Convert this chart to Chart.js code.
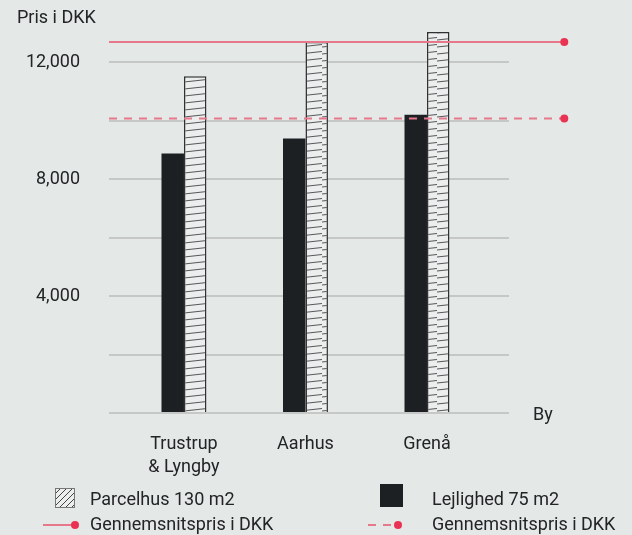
<!DOCTYPE html>
<html>
<head>
<meta charset="utf-8">
<script src="https://cdn.jsdelivr.net/npm/chart.js@4"></script>
<style>
  html, body { margin: 0; padding: 0; background: #e4e8e7; }
  #wrap { width: 632px; height: 535px; position: relative; }
</style>
</head>
<body>
<div id="wrap"><canvas id="priceChart"></canvas></div>
<script>
// data
const cities = [['Trustrup', '& Lyngby'], ['Aarhus'], ['Grenå']];
const cityPos = [1, 2, 3];
const lejlighed = [8880, 9400, 10210];
const parcelhus = [11530, 12700, 13040];
const avgParcelhus = 12700;
const avgLejlighed = 10080;
const avgLineSpan = [0.383, 4.13];
const yLabels = [4000, 8000, 12000];

const textColor = '#222425';
const gridColor = '#c5c8c7';
const barDark = '#1d2022';
const lineRed = '#e7788b';
const dotRed = '#ea3352';
const fontFamily = 'Roboto';

Chart.defaults.font.family = fontFamily;
Chart.defaults.color = textColor;

function makeHatch() {
    const c = document.createElement('canvas');
    c.width = 23; c.height = 14;
    const g = c.getContext('2d');
    g.fillStyle = '#eceeed';
    g.fillRect(0, 0, 23, 14);
    g.strokeStyle = '#55585a';
    g.lineWidth = 1.2;
    g.beginPath();
    g.moveTo(0, 5); g.lineTo(23, 2.5);
    g.moveTo(0, 12); g.lineTo(23, 9.5);
    g.stroke();
    return g.createPattern(c, 'repeat');
}

// axis names, line end dots and the legend below the chart
const extras = {
    id: 'extras',
    afterDatasetsDraw(chart) {
        const ctx = chart.ctx;
        ctx.save();
        ctx.fillStyle = dotRed;
        [2, 3].forEach(i => {
            const pts = chart.getDatasetMeta(i).data;
            const p = pts[pts.length - 1];
            ctx.beginPath();
            ctx.arc(p.x, p.y, 4, 0, Math.PI * 2);
            ctx.fill();
        });
        ctx.restore();
    },
    afterDraw(chart) {
        const ctx = chart.ctx;
        const area = chart.chartArea;
        ctx.save();
        ctx.fillStyle = textColor;
        ctx.font = '18px ' + fontFamily;
        ctx.textBaseline = 'middle';
        ctx.fillText('Pris i DKK', 17, 18);
        ctx.fillText('By', area.right + 24, area.bottom + 2);

        const ds = chart.data.datasets;
        // hatched swatch
        ctx.save();
        ctx.beginPath();
        ctx.rect(55, 488, 20, 20);
        ctx.clip();
        ctx.fillStyle = '#eceeed';
        ctx.fillRect(55, 488, 20, 20);
        ctx.strokeStyle = '#444';
        ctx.lineWidth = 1;
        ctx.beginPath();
        for (let k = -20; k < 30; k += 6) {
            ctx.moveTo(55 + k, 508);
            ctx.lineTo(55 + k + 20, 488);
        }
        ctx.stroke();
        ctx.restore();
        ctx.strokeStyle = '#777';
        ctx.lineWidth = 1;
        ctx.strokeRect(55.5, 488.5, 19, 19);
        ctx.fillStyle = textColor;
        ctx.fillText(ds[1].label, 90, 500);

        // dark swatch
        ctx.fillStyle = ds[0].backgroundColor;
        ctx.fillRect(380, 484, 23, 23);
        ctx.fillStyle = textColor;
        ctx.fillText(ds[0].label, 432, 500);

        // line swatches
        const rows = [[ds[2], 43, 75, 90], [ds[3], 368, 398, 432]];
        rows.forEach(([d, x0, x1, tx]) => {
            ctx.strokeStyle = d.borderColor;
            ctx.lineWidth = 2;
            ctx.setLineDash(d.borderDash || []);
            ctx.beginPath();
            ctx.moveTo(x0, 525);
            ctx.lineTo(x1, 525);
            ctx.stroke();
            ctx.setLineDash([]);
            ctx.fillStyle = dotRed;
            ctx.beginPath();
            ctx.arc(x1, 525, 4, 0, Math.PI * 2);
            ctx.fill();
            ctx.fillStyle = textColor;
            ctx.fillText(d.label, tx, 525);
        });
        ctx.restore();
    }
};

const chart = new Chart(document.getElementById('priceChart'), {
    type: 'bar',
    data: {
        datasets: [{
            label: 'Lejlighed 75 m2',
            data: cityPos.map((x, i) => ({ x, y: lejlighed[i] })),
            backgroundColor: barDark,
            borderWidth: 0,
            categoryPercentage: 0.37,
            barPercentage: 1,
            order: 2
        }, {
            label: 'Parcelhus 130 m2',
            data: cityPos.map((x, i) => ({ x, y: parcelhus[i] })),
            backgroundColor: makeHatch(),
            borderColor: '#2f3132',
            borderWidth: { top: 1.5, left: 1.5, right: 1.5, bottom: 0 },
            categoryPercentage: 0.37,
            barPercentage: 1,
            order: 2
        }, {
            type: 'line',
            label: 'Gennemsnitspris i DKK',
            data: avgLineSpan.map(x => ({ x, y: avgParcelhus })),
            borderColor: lineRed,
            borderWidth: 2,
            pointRadius: 0,
            clip: false,
            order: 0
        }, {
            type: 'line',
            label: 'Gennemsnitspris i DKK',
            data: avgLineSpan.map(x => ({ x, y: avgLejlighed })),
            borderColor: lineRed,
            borderWidth: 2,
            borderDash: [8, 7],
            pointRadius: 0,
            clip: false,
            order: 0
        }]
    },
    options: {
        responsive: true,
        maintainAspectRatio: false,
        animation: false,
        layout: { padding: { top: 4, right: 123, left: 0, bottom: 0 } },
        plugins: { legend: { display: false }, tooltip: { enabled: false } },
        scales: {
            x: {
                type: 'linear',
                offset: false,
                min: 0.383,
                max: 3.675,
                grid: { display: false },
                border: { display: false },
                afterBuildTicks: s => { s.ticks = cityPos.map(v => ({ value: v })); },
                afterFit: s => { s.height = 122; },
                ticks: {
                    autoSkip: false,
                    maxRotation: 0,
                    padding: 12,
                    color: textColor,
                    font: { size: 18, lineHeight: 1.28 },
                    callback: v => cities[v - 1] || ''
                }
            },
            y: {
                min: 0,
                max: 14000,
                afterFit: s => { s.width = 109; s.paddingTop = 0; s.paddingBottom = 0; },
                border: { display: false },
                grid: {
                    color: c => c.tick && c.tick.value <= 12000 ? gridColor : 'transparent',
                    lineWidth: 2,
                    drawTicks: false
                },
                ticks: {
                    stepSize: 2000,
                    autoSkip: false,
                    padding: 29,
                    color: textColor,
                    font: { size: 18 },
                    callback: v => yLabels.includes(v) ? v.toLocaleString('en-US') : ''
                }
            }
        }
    },
    plugins: [extras]
});
</script>
</body>
</html>
